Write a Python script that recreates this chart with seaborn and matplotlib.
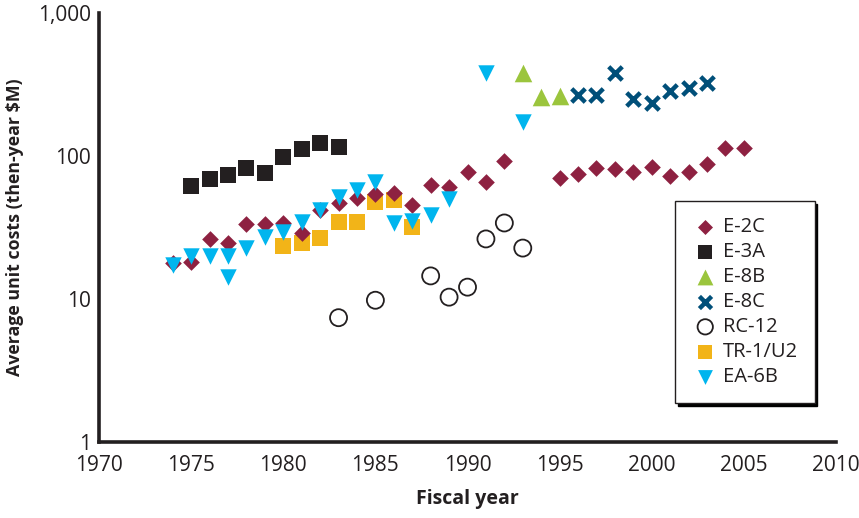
import numpy as np
import pandas as pd
import seaborn as sns
import matplotlib.pyplot as plt
from matplotlib.ticker import FixedLocator, NullLocator

sns.set_style('white')
plt.rcParams['font.family'] = ['Open Sans', 'DejaVu Sans']

# data (then-year $M)
e2c_years = [1974, 1975, 1976, 1977, 1978, 1979, 1980, 1981, 1982, 1983, 1984, 1985,
             1986, 1987, 1988, 1989, 1990, 1991, 1992, 1995, 1996, 1997, 1998, 1999,
             2000, 2001, 2002, 2003, 2004, 2005]
e2c_costs = [17.9, 18.1, 26.3, 24.6, 33.5, 33.5, 34, 29, 41.9, 46.9, 50.8, 54.2,
             55, 45.4, 62.7, 60.7, 77.3, 65.8, 92.3, 70.2, 74.3, 82.4, 81, 77.3,
             83.8, 72.4, 77.3, 87.9, 113.7, 113.7]

e3a_years = [1975, 1976, 1977, 1978, 1979, 1980, 1981, 1982, 1983]
e3a_costs = [61.7, 69, 73.6, 82.4, 76, 98.4, 112, 123, 115.6]

e8b_years = [1993, 1994, 1995]
e8b_costs = [380, 259, 262]

e8c_years = [1996, 1997, 1998, 1999, 2000, 2001, 2002, 2003]
e8c_costs = [267, 267, 380, 250, 235, 285, 299, 324]

rc12_years = [1983, 1985, 1988, 1989, 1990, 1991, 1992, 1993]
rc12_costs = [7.4, 9.8, 14.5, 10.3, 12.1, 26.3, 34, 22.7]

tr1_years = [1980, 1981, 1982, 1983, 1984, 1985, 1986, 1987]
tr1_costs = [23.5, 24.6, 26.7, 34.5, 34.5, 47.7, 49.3, 31.9]

ea6b_years = [1974, 1975, 1976, 1977, 1977, 1978, 1979, 1980, 1981, 1982, 1983, 1984,
              1985, 1986, 1987, 1988, 1989, 1991, 1993]
ea6b_costs = [17.3, 20, 20, 20, 14.3, 22.7, 27.2, 29.4, 34.5, 41.9, 51.7, 57.8,
              65.8, 34, 35.1, 38.7, 50, 380, 173]

fig = plt.figure(figsize=(8.59, 5.18), dpi=100)
ax = fig.add_axes([0.1153, 0.1467, 0.8579, 0.8283])

sns.scatterplot(x=e2c_years, y=e2c_costs, marker='D', s=72, color='#8E2141',
                linewidth=0, label='E-2C', ax=ax, zorder=3)
sns.scatterplot(x=e3a_years, y=e3a_costs, marker='s', s=135, color='#231F20',
                linewidth=0, label='E-3A', ax=ax, zorder=3)
sns.scatterplot(x=e8b_years, y=e8b_costs, marker='^', s=160, color='#9BC53D',
                linewidth=0, label='E-8B', ax=ax, zorder=3)
sns.scatterplot(x=e8c_years, y=e8c_costs, marker='x', s=95, color='#004F79',
                linewidth=3.2, label='E-8C', ax=ax, zorder=3)
sns.scatterplot(x=rc12_years, y=rc12_costs, marker='o', s=150, facecolor='none',
                edgecolor='#231F20', linewidth=1.3, label='RC-12', ax=ax, zorder=3)
sns.scatterplot(x=tr1_years, y=tr1_costs, marker='s', s=135, color='#F2B418',
                linewidth=0, label='TR-1/U2', ax=ax, zorder=2)
sns.scatterplot(x=ea6b_years, y=ea6b_costs, marker='v', s=140, color='#00B5EE',
                linewidth=0, label='EA-6B', ax=ax, zorder=4)

ax.set_yscale('log')
ax.set_ylim(1, 1000)
ax.set_xlim(1970, 2010)
ax.yaxis.set_major_locator(FixedLocator([1, 10, 100, 1000]))
ax.yaxis.set_minor_locator(NullLocator())
ax.set_yticklabels(['1', '10', '100', '1,000'])
ax.set_xticks(range(1970, 2011, 5))

for side in ['top', 'right']:
    ax.spines[side].set_visible(False)
for side in ['left', 'bottom']:
    ax.spines[side].set_linewidth(2.6)
    ax.spines[side].set_color('#231F20')

ax.tick_params(axis='x', direction='in', length=14, width=1, color='#231F20',
               labelsize=15, pad=9, labelcolor='#231F20')
ax.tick_params(axis='y', direction='in', length=7, width=1, color='#231F20',
               labelsize=15, pad=6, labelcolor='#231F20')

ax.set_xlabel('Fiscal year', fontsize=14, fontweight='bold', color='#231F20', labelpad=10)
ax.set_ylabel('Average unit costs (then-year $M)', fontsize=12.8, fontweight='bold',
              color='#231F20', labelpad=10)

leg = ax.legend(loc='upper left', bbox_to_anchor=(0.7816, 0.562), borderaxespad=0,
                fontsize=14.5, frameon=True, fancybox=False, shadow={'color': 'k', 'alpha': 1},
                labelspacing=0.25, handletextpad=0.2, borderpad=0.8, handlelength=1.4,
                markerscale=0.9)
leg.get_frame().set_edgecolor('#231F20')
leg.get_frame().set_linewidth(1.0)
for t in leg.get_texts():
    t.set_color('#231F20')

plt.savefig('out.png', dpi=100, facecolor='w')
